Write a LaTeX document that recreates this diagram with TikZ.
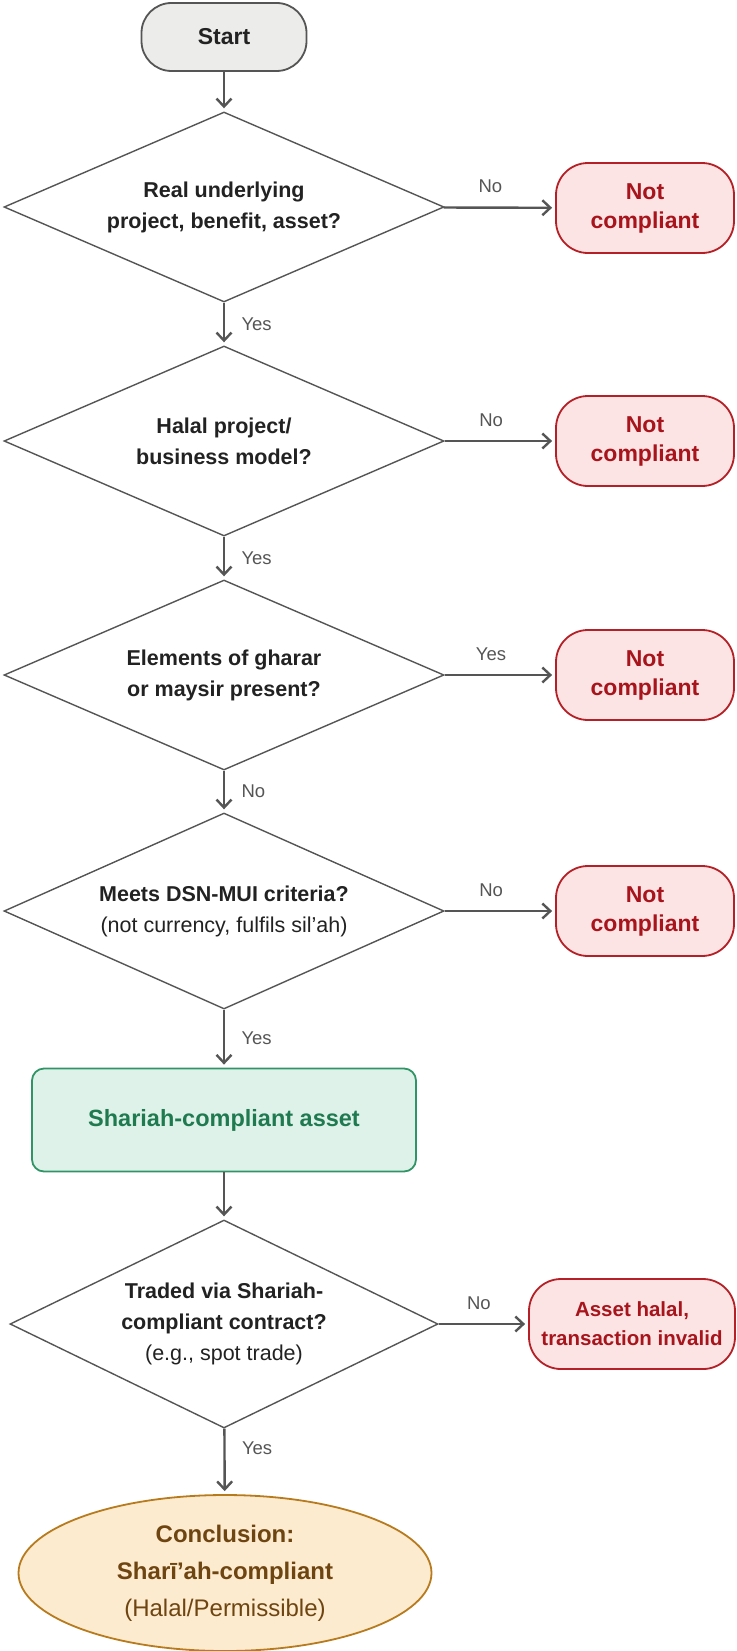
\documentclass[tikz,border=0pt]{standalone}
\usepackage{fontspec}
\setmainfont{Liberation Sans}
\usepackage{tikz}
\usetikzlibrary{arrows.meta,shapes.geometric}
\usepackage{xcolor}
\definecolor{linegray}{RGB}{85,85,85}
\definecolor{textdark}{RGB}{34,34,34}
\definecolor{startfill}{RGB}{236,236,234}
\definecolor{failfill}{RGB}{252,228,228}
\definecolor{faildraw}{RGB}{181,32,38}
\definecolor{failtext}{RGB}{168,20,28}
\definecolor{okfill}{RGB}{223,242,234}
\definecolor{okdraw}{RGB}{47,148,102}
\definecolor{oktext}{RGB}{31,122,80}
\definecolor{endfill}{RGB}{253,235,208}
\definecolor{enddraw}{RGB}{183,123,30}
\definecolor{endtext}{RGB}{110,69,17}

\begin{document}
\begin{tikzpicture}[x=1pt,y=-1pt,
    startbox/.style={draw=linegray,line width=1.8pt,fill=startfill,rounded corners=30pt,
      minimum width=165pt,minimum height=68pt,text=textdark,
      font=\fontsize{23}{28}\selectfont\bfseries},
    question/.style={diamond,aspect=2.2,draw=linegray,line width=1.4pt,fill=white,inner sep=0pt,
      minimum width=440pt,minimum height=190pt,align=center,text=textdark,
      font=\fontsize{21.5}{31}\selectfont},
    failbox/.style={draw=faildraw,line width=1.8pt,fill=failfill,rounded corners=32pt,
      minimum width=178pt,minimum height=90pt,align=center,text=failtext,
      font=\fontsize{23}{29}\selectfont\bfseries},
    okbox/.style={draw=okdraw,line width=1.8pt,fill=okfill,rounded corners=12pt,
      minimum width=384pt,minimum height=103pt,text=oktext,
      font=\fontsize{23.5}{28}\selectfont\bfseries},
    verdictbox/.style={ellipse,draw=enddraw,line width=1.8pt,fill=endfill,inner sep=0pt,
      minimum width=413pt,minimum height=156pt,align=center,text=endtext,
      font=\fontsize{24}{37}\selectfont},
    flow/.style={draw=linegray,line width=2.4pt,-{Straight Barb[length=8pt,width=15pt]},shorten >=3pt},
    answer/.style={text=linegray,font=\fontsize{18.5}{22}\selectfont}
  ]
    \useasboundingbox (0,0) rectangle (736,1651);

    % main column
    \node (start) [startbox] at (224,37) {Start};
    \node (q1) [question] at (224,207) {\textbf{Real underlying}\\\textbf{project, benefit, asset?}};
    \node (q2) [question] at (224,441) {\textbf{Halal project/}\\\textbf{business model?}};
    \node (q3) [question] at (224,675) {\textbf{Elements of gharar}\\\textbf{or maysir present?}};
    \node (q4) [question,minimum height=196pt] at (224,911) {\textbf{Meets DSN-MUI criteria?}\\(not currency, fulfils sil'ah)};
    \node (asset) [okbox] at (224,1120) {Shariah-compliant asset};
    \node (q5) [question,minimum width=428pt,minimum height=208pt] at (224,1324)
      {\textbf{Traded via Shariah-}\\\textbf{compliant contract?}\\(e.g., spot trade)};
    \node (verdict) [verdictbox] at (225,1573) {\textbf{Conclusion:}\\\textbf{Sharī’ah-compliant}\\(Halal/Permissible)};

    % rejections on the right
    \node (fail1) [failbox] at (645,208) {Not\\compliant};
    \node (fail2) [failbox] at (645,441) {Not\\compliant};
    \node (fail3) [failbox] at (645,675) {Not\\compliant};
    \node (fail4) [failbox] at (645,911) {Not\\compliant};
    \node (fail5) [failbox,minimum width=206pt,font=\fontsize{20.5}{29}\selectfont\bfseries] at (632,1324)
      {Asset halal,\\transaction invalid};

    % downward flow
    \draw[flow] (start) -- (q1);
    \draw[flow] (q1) -- node[answer,right=13pt] {Yes} (q2);
    \draw[flow] (q2) -- node[answer,right=13pt] {Yes} (q3);
    \draw[flow] (q3) -- node[answer,right=13pt] {No} (q4);
    \draw[flow] (q4) -- node[answer,right=13pt] {Yes} (asset);
    \draw[flow] (asset) -- (q5);
    \draw[flow] (q5) -- node[answer,right=13pt,pos=0.3] {Yes} (verdict);

    % side exits
    \draw[flow] (q1) -- node[answer,above=10pt,pos=0.42] {No} (fail1);
    \draw[flow] (q2) -- node[answer,above=10pt,pos=0.42] {No} (fail2);
    \draw[flow] (q3) -- node[answer,above=10pt,pos=0.42] {Yes} (fail3);
    \draw[flow] (q4) -- node[answer,above=10pt,pos=0.42] {No} (fail4);
    \draw[flow] (q5) -- node[answer,above=10pt,pos=0.45] {No} (fail5);
  \end{tikzpicture}
\end{document}
